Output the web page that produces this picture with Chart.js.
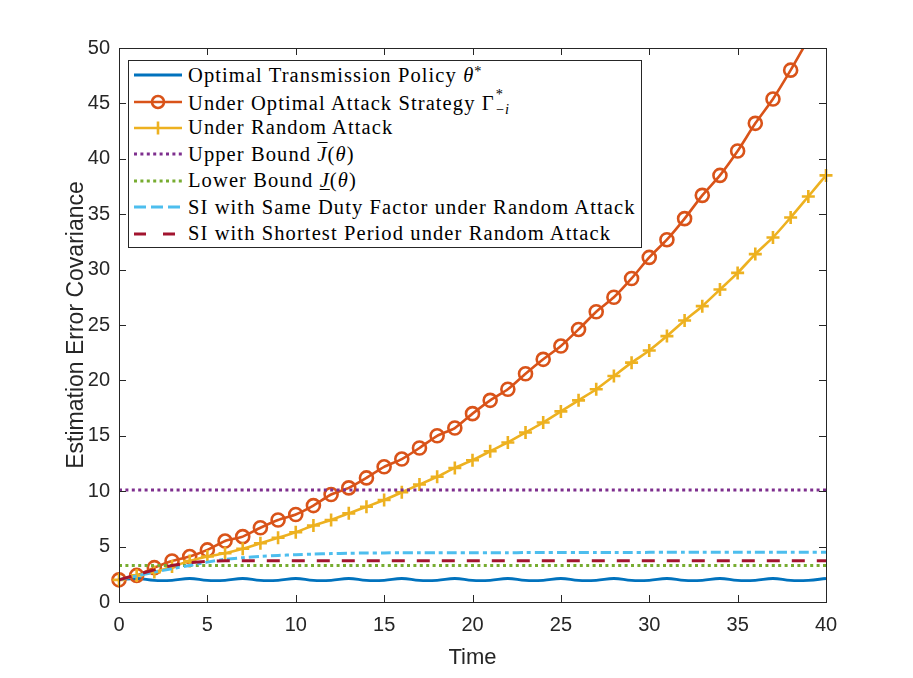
<!DOCTYPE html>
<html lang="en">
<head>
<meta charset="UTF-8">
<title>Estimation Error Covariance</title>
<script src="https://cdn.jsdelivr.net/npm/chart.js"></script>
<style>
    body {
        margin: 0;
        background: #fff;
    }

    .wrap {
        position: relative;
        width: 913px;
        height: 678px;
    }

    .legend {
        position: absolute;
        left: 128px;
        top: 60px;
        width: 514px;
        height: 188px;
        box-sizing: border-box;
        border: 1px solid #262626;
        background: #fff;
        padding-top: 1px;
        font-family: "Liberation Serif", serif;
        font-size: 20.5px;
        letter-spacing: 1.1px;
        color: #000;
    }

    .legend-item {
        display: flex;
        align-items: center;
        height: 26.4px;
        white-space: nowrap;
    }

    .legend-item svg {
        width: 48px;
        height: 20px;
        margin-left: 5px;
        margin-right: 6px;
        flex: none;
    }

    .legend sup {
        font-size: 0.7em;
        vertical-align: 0.45em;
        line-height: 0;
    }

    /* stacked super/subscript that does not change the row height */
    .supsub {
        position: relative;
        display: inline-block;
        width: 1.05em;
        height: 1em;
        vertical-align: baseline;
    }

    .supsub .s1, .supsub .s2 {
        position: absolute;
        left: 1px;
        font-size: 0.7em;
        line-height: 1;
    }

    .supsub .s1 { top: -0.1em; }
    .supsub .s2 { top: 0.9em; }

    .over {
        text-decoration: overline;
        text-decoration-thickness: 1px;
    }

    .under {
        text-decoration: underline;
        text-decoration-thickness: 1px;
        text-underline-offset: 2px;
    }
</style>
</head>
<body>

<div class="wrap">
    <canvas id="chart" width="913" height="678"></canvas>
    <div class="legend" id="legend"></div>
</div>

<script>
    // time steps
    const time = [0, 1, 2, 3, 4, 5, 6, 7, 8, 9, 10, 11, 12, 13, 14, 15, 16, 17, 18, 19, 20,
                  21, 22, 23, 24, 25, 26, 27, 28, 29, 30, 31, 32, 33, 34, 35, 36, 37, 38, 39, 40];

    const optimalPolicy = [2.0, 2.12, 1.95, 1.96, 2.12, 1.95, 1.96, 2.12, 1.95, 1.96, 2.12,
                           1.95, 1.96, 2.12, 1.95, 1.96, 2.12, 1.95, 1.96, 2.12, 1.95,
                           1.96, 2.12, 1.95, 1.96, 2.12, 1.95, 1.96, 2.12, 1.95, 1.96,
                           2.12, 1.95, 1.96, 2.12, 1.95, 1.96, 2.12, 1.95, 1.96, 2.12];

    const optimalAttack = [2.0, 2.4, 3.1, 3.7, 4.1, 4.7, 5.5, 5.9, 6.7, 7.4, 7.9,
                           8.7, 9.7, 10.3, 11.2, 12.2, 12.9, 13.9, 15.0, 15.7, 17.0,
                           18.2, 19.2, 20.6, 21.9, 23.1, 24.6, 26.2, 27.5, 29.2, 31.1,
                           32.7, 34.6, 36.7, 38.5, 40.7, 43.2, 45.4, 48.0, 50.8, 53.6];

    const randomAttack = [2.0, 2.4, 2.7, 3.2, 3.7, 4.1, 4.4, 4.8, 5.3, 5.8, 6.3,
                          6.9, 7.4, 8.0, 8.6, 9.2, 9.9, 10.6, 11.3, 12.1, 12.8,
                          13.6, 14.4, 15.3, 16.2, 17.2, 18.2, 19.2, 20.4, 21.6, 22.7,
                          24.0, 25.4, 26.7, 28.2, 29.7, 31.4, 32.9, 34.7, 36.6, 38.5];

    const upperBound = 10.1;
    const lowerBound = 3.3;

    const sameDutyFactor = [2.0, 2.35, 2.7, 3.0, 3.3, 3.6, 3.85, 4.0, 4.12, 4.2, 4.27,
                            4.32, 4.37, 4.4, 4.42, 4.43, 4.44, 4.44, 4.45, 4.45, 4.45,
                            4.45, 4.45, 4.46, 4.46, 4.46, 4.46, 4.47, 4.47, 4.47, 4.48,
                            4.48, 4.48, 4.49, 4.49, 4.49, 4.5, 4.5, 4.5, 4.5, 4.5];

    const shortestPeriod = [2.0, 2.45, 2.9, 3.3, 3.55, 3.68, 3.72, 3.72, 3.72, 3.72, 3.72,
                            3.72, 3.72, 3.72, 3.72, 3.72, 3.72, 3.72, 3.72, 3.72, 3.72,
                            3.72, 3.72, 3.72, 3.72, 3.72, 3.72, 3.72, 3.72, 3.72, 3.72,
                            3.72, 3.72, 3.72, 3.72, 3.72, 3.72, 3.72, 3.72, 3.72, 3.72];

    const xTicks = [0, 5, 10, 15, 20, 25, 30, 35, 40];
    const yTicks = [0, 5, 10, 15, 20, 25, 30, 35, 40, 45, 50];

    const colors = {
        blue: '#0072BD', orange: '#D95319', yellow: '#EDB120', purple: '#7E2F8E',
        green: '#77AC30', cyan: '#4DBEEE', red: '#A2142F'
    };

    const pts = (ys) => time.map((t, i) => ({ x: t, y: ys[i] }));
    const flat = (v) => [{ x: time[0], y: v }, { x: time[time.length - 1], y: v }];

    const clipBox = { left: 12, right: 12, top: 0, bottom: 12 };
    const dotted = [3, 3.4];

    const datasets = [
        { label: 'SI with Shortest Period under Random Attack', data: pts(shortestPeriod),
          borderColor: colors.red, borderWidth: 3, borderDash: [13, 12], pointRadius: 0, order: 1 },
        { label: 'SI with Same Duty Factor under Random Attack', data: pts(sameDutyFactor),
          borderColor: colors.cyan, borderWidth: 3, borderDash: [10, 4, 4, 4], pointRadius: 0,
          tension: 0.3, order: 2 },
        { label: 'Lower Bound', data: flat(lowerBound),
          borderColor: colors.green, borderWidth: 3, borderDash: dotted, pointRadius: 0, order: 3 },
        { label: 'Upper Bound', data: flat(upperBound),
          borderColor: colors.purple, borderWidth: 3, borderDash: dotted, pointRadius: 0, order: 4 },
        { label: 'Under Random Attack', data: pts(randomAttack),
          borderColor: colors.yellow, borderWidth: 2.6, pointStyle: 'cross', pointRadius: 6.5,
          pointBorderWidth: 2.6, pointBorderColor: colors.yellow, tension: 0.2, order: 5 },
        { label: 'Under Optimal Attack Strategy', data: pts(optimalAttack),
          borderColor: colors.orange, borderWidth: 2.6, pointStyle: 'circle', pointRadius: 6.5,
          pointBorderWidth: 2.6, pointBorderColor: colors.orange,
          pointBackgroundColor: 'rgba(0,0,0,0)', tension: 0.2, order: 6 },
        { label: 'Optimal Transmission Policy', data: pts(optimalPolicy),
          borderColor: colors.blue, borderWidth: 2.8, pointRadius: 0, tension: 0.4, order: 7 }
    ];
    datasets.forEach(d => { d.clip = clipBox; d.fill = false; });

    // MATLAB style box with inward ticks on all four sides
    const axesBox = {
        id: 'axesBox',
        afterDatasetsDraw(chart) {
            const { ctx, chartArea: a, scales: { x, y } } = chart;
            const len = 7;
            ctx.save();
            ctx.strokeStyle = '#262626';
            ctx.lineWidth = 1;
            ctx.strokeRect(a.left + 0.5, a.top + 0.5, a.right - a.left, a.bottom - a.top);
            ctx.beginPath();
            x.ticks.forEach(t => {
                const px = Math.round(x.getPixelForValue(t.value)) + 0.5;
                ctx.moveTo(px, a.bottom); ctx.lineTo(px, a.bottom - len);
                ctx.moveTo(px, a.top); ctx.lineTo(px, a.top + len);
            });
            y.ticks.forEach(t => {
                const py = Math.round(y.getPixelForValue(t.value)) + 0.5;
                ctx.moveTo(a.left, py); ctx.lineTo(a.left + len, py);
                ctx.moveTo(a.right, py); ctx.lineTo(a.right - len, py);
            });
            ctx.stroke();
            ctx.restore();
        }
    };

    const tickFont = { family: '"Liberation Sans", Arial, sans-serif', size: 20 };

    new Chart(document.getElementById('chart'), {
        type: 'line',
        data: { datasets: datasets },
        options: {
            responsive: false,
            animation: false,
            layout: { padding: { top: 48, right: 87, left: 0, bottom: 0 } },
            plugins: { legend: { display: false }, tooltip: { enabled: false } },
            scales: {
                x: {
                    type: 'linear', min: 0, max: 40,
                    afterBuildTicks: (s) => { s.ticks = xTicks.map(v => ({ value: v })); },
                    afterFit: (s) => { s.height = 76; },
                    grid: { display: false, drawTicks: false },
                    border: { display: false },
                    ticks: { font: tickFont, color: '#262626', padding: 11, maxRotation: 0 },
                    title: { display: true, text: 'Time', color: '#262626',
                             font: { family: '"Liberation Sans", Arial, sans-serif', size: 22 },
                             padding: { top: 0, bottom: 7 } }
                },
                y: {
                    type: 'linear', min: 0, max: 50,
                    afterBuildTicks: (s) => { s.ticks = yTicks.map(v => ({ value: v })); },
                    afterFit: (s) => { s.width = 119; },
                    grid: { display: false, drawTicks: false },
                    border: { display: false },
                    ticks: { font: tickFont, color: '#262626', padding: 9 },
                    title: { display: true, text: 'Estimation Error Covariance', color: '#262626',
                             font: { family: '"Liberation Sans", Arial, sans-serif', size: 23 },
                             padding: { top: 63, bottom: 0 } }
                }
            }
        },
        plugins: [axesBox]
    });

    // legend with the math labels
    const legendItems = [
        { html: 'Optimal Transmission Policy <i>θ</i><sup>*</sup>',
          svg: `<line x1="0" y1="10" x2="48" y2="10" stroke="${colors.blue}" stroke-width="2.8"/>` },
        { html: 'Under Optimal Attack Strategy Γ<span class="supsub"><span class="s1">*</span><span class="s2">−<i>i</i></span></span>',
          svg: `<line x1="0" y1="10" x2="48" y2="10" stroke="${colors.orange}" stroke-width="2.6"/>
                <circle cx="24" cy="10" r="6" fill="none" stroke="${colors.orange}" stroke-width="2.6"/>` },
        { html: 'Under Random Attack',
          svg: `<line x1="0" y1="10" x2="48" y2="10" stroke="${colors.yellow}" stroke-width="2.6"/>
                <line x1="24" y1="3.5" x2="24" y2="16.5" stroke="${colors.yellow}" stroke-width="2.6"/>` },
        { html: 'Upper Bound <span class="over"><i>J</i></span>(<i>θ</i>)',
          svg: `<line x1="0" y1="10" x2="48" y2="10" stroke="${colors.purple}" stroke-width="3" stroke-dasharray="3 3.4"/>` },
        { html: 'Lower Bound <span class="under"><i>J</i></span>(<i>θ</i>)',
          svg: `<line x1="0" y1="10" x2="48" y2="10" stroke="${colors.green}" stroke-width="3" stroke-dasharray="3 3.4"/>` },
        { html: 'SI with Same Duty Factor under Random Attack',
          svg: `<line x1="0" y1="10" x2="48" y2="10" stroke="${colors.cyan}" stroke-width="3" stroke-dasharray="12 5"/>` },
        { html: 'SI with Shortest Period under Random Attack',
          svg: `<line x1="0" y1="10" x2="48" y2="10" stroke="${colors.red}" stroke-width="3" stroke-dasharray="12 17"/>` }
    ];

    const legendEl = document.getElementById('legend');
    legendItems.forEach(item => {
        const row = document.createElement('div');
        row.className = 'legend-item';
        row.innerHTML = `<svg viewBox="0 0 48 20">${item.svg}</svg><span>${item.html}</span>`;
        legendEl.appendChild(row);
    });
</script>

</body>
</html>
